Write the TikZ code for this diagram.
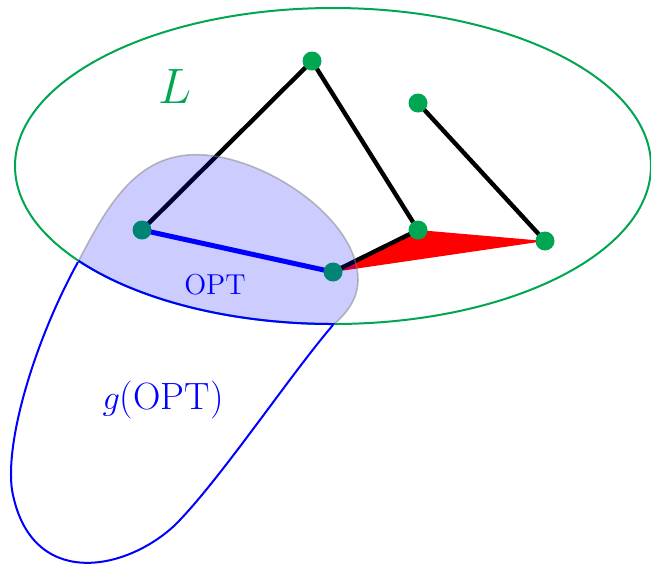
\documentclass[tikz,border=0pt]{standalone}
\usepackage{amsmath}
\usetikzlibrary{positioning}
\definecolor{lzold}{RGB}{0,166,81}
\tikzset{
  csucs/.style={circle,fill=lzold,inner sep=0pt,minimum size=9.5pt},
  el/.style={line width=2.2pt,line cap=round},
  optel/.style={line width=2.5pt,blue},
  halmaz/.style={lzold,line width=1pt},
  gkont/.style={blue,line width=1pt},
}
\def\gopt{(78,262) .. controls (110,200) and (140,150) .. (205,155)
  .. controls (270,160) and (358,220) .. (358,280)
  .. controls (358,300) and (345,315) .. (333,325)
  .. controls (290,375) and (220,480) .. (175,525)
  .. controls (125,572) and (30,590) .. (12,490)
  .. controls (5,440) and (35,340) .. (78,262) -- cycle}
\begin{document}
\begin{tikzpicture}[x=0.5pt,y=-0.5pt]
  \useasboundingbox (0,0) rectangle (651,570);
  % L halmaz
  \draw[halmaz] (333,166) ellipse [x radius=318, y radius=158];
  \node[lzold,font=\Huge] (lcimke) at (175,86) {$L$};
  % csucsok
  \coordinate (fent) at (312,61);
  \coordinate (a) at (142,230);
  \coordinate (b) at (333,272);
  \coordinate (c) at (418,230);
  \coordinate (d) at (545,241);
  \coordinate (e) at (418,103);
  \fill[red] (b) -- (c) -- (d) -- cycle;
  \draw[el] (a) -- (fent) -- (c) -- (b);
  \draw[el] (e) -- (d);
  \draw[optel] (a) -- (b);
  \foreach \p in {fent,a,b,c,d,e} \node[csucs] at (\p) {};
  % OPT = g(OPT) es L metszete
  \begin{scope}
    \clip (333,166) ellipse [x radius=318, y radius=158];
    \fill[blue,fill opacity=0.2] \gopt;
    \draw[gray,draw opacity=0.5,line width=0.8pt] \gopt;
  \end{scope}
  \begin{scope}
    \clip \gopt;
    \draw[gkont] (333,166) ellipse [x radius=318, y radius=158];
  \end{scope}
  % g(OPT) also resze
  \draw[gkont] (333,325) .. controls (290,375) and (220,480) .. (175,525)
    .. controls (125,572) and (30,590) .. (12,490)
    .. controls (5,440) and (35,340) .. (78,262);
  \node[blue,font=\Large] (optc) at (215,285) {OPT};
  \node[blue,font=\fontsize{19}{22}\selectfont] (goptc) at (163,400) {$g$(OPT)};
\end{tikzpicture}
\end{document}
